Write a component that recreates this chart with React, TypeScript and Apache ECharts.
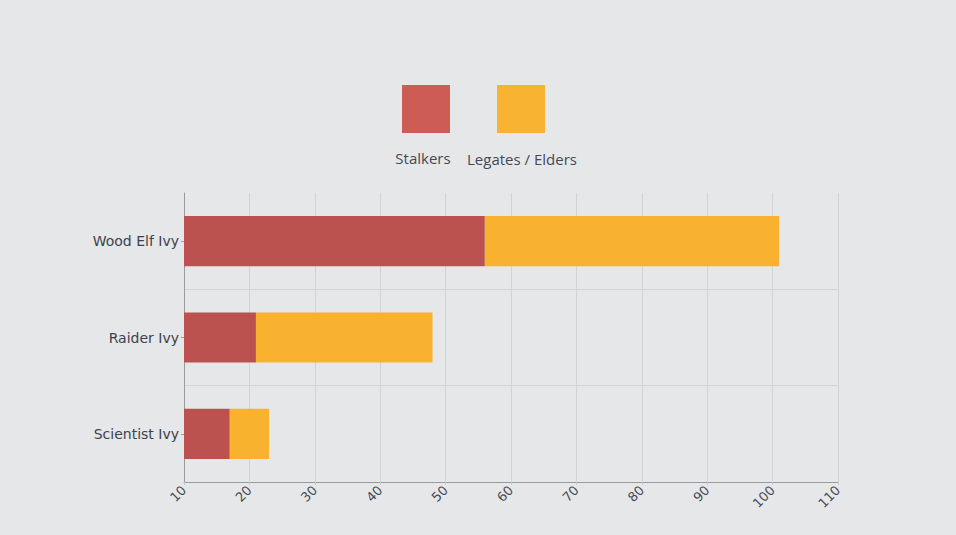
import * as echarts from "echarts"
import { useEffect, useRef } from "react"

// Stacked horizontal bars: who picks which Ivy, split by faction.
const categories = ["Wood Elf Ivy", "Raider Ivy", "Scientist Ivy"]
const stalkers = [56, 21, 17]
const legates = [45, 27, 6]
const seriesNames = ["Stalkers", "Legates / Elders"]

const barColors = ["#bc524f", "#f8b230"]
const legendColors = ["#cd5c56", "#f8b330"]

export default function App() {
  const ref = useRef<HTMLDivElement>(null)

  useEffect(() => {
    document.body.style.margin = "0"
    if (!ref.current) return
    const chart = echarts.init(ref.current, undefined, { renderer: "svg" })

    const legendX = [402, 497]
    const textX = [423, 522]
    const legendGraphics = seriesNames.flatMap((name, i) => [
      {
        type: "rect",
        left: legendX[i],
        top: 85,
        shape: { width: 48, height: 48 },
        style: { fill: legendColors[i] },
      },
      {
        type: "text",
        x: textX[i],
        y: 150 + i,
        style: {
          text: name,
          fill: "#444a55",
          font: '15px "Open Sans"',
          textAlign: "center",
        },
      },
    ])

    chart.setOption({
      animation: false,
      backgroundColor: "#e6e7e9",
      grid: { top: 193, left: 184, right: 118, bottom: 53 },
      graphic: legendGraphics,
      xAxis: {
        type: "value",
        min: 10,
        max: 110,
        interval: 10,
        axisLine: { show: true, lineStyle: { color: "#9a9a9c" } },
        axisTick: { show: true, length: 3, lineStyle: { color: "#c8c9cb" } },
        splitLine: { lineStyle: { color: "#d2d3d5" } },
        axisLabel: {
          rotate: 45,
          color: "#444a55",
          fontSize: 13,
          fontFamily: "DejaVu Sans",
          margin: 6,
        },
      },
      yAxis: {
        type: "category",
        data: categories,
        inverse: true,
        axisLine: { show: true, lineStyle: { color: "#9a9a9c" } },
        axisTick: { show: true, length: 3, alignWithLabel: true, lineStyle: { color: "#9a9a9c" } },
        splitLine: {
          show: true,
          interval: (i: number) => i > 0,
          lineStyle: { color: "#d2d3d5" },
        },
        axisLabel: { color: "#3c424d", fontSize: 14, fontFamily: "DejaVu Sans", margin: 5 },
      },
      series: [
        {
          name: seriesNames[0],
          type: "bar",
          stack: "total",
          data: stalkers,
          barWidth: "52%",
          itemStyle: { color: barColors[0] },
        },
        {
          name: seriesNames[1],
          type: "bar",
          stack: "total",
          data: legates,
          barWidth: "52%",
          itemStyle: { color: barColors[1] },
        },
      ],
    })

    return () => chart.dispose()
  }, [])

  return <div ref={ref} style={{ width: 956, height: 535 }} />
}
